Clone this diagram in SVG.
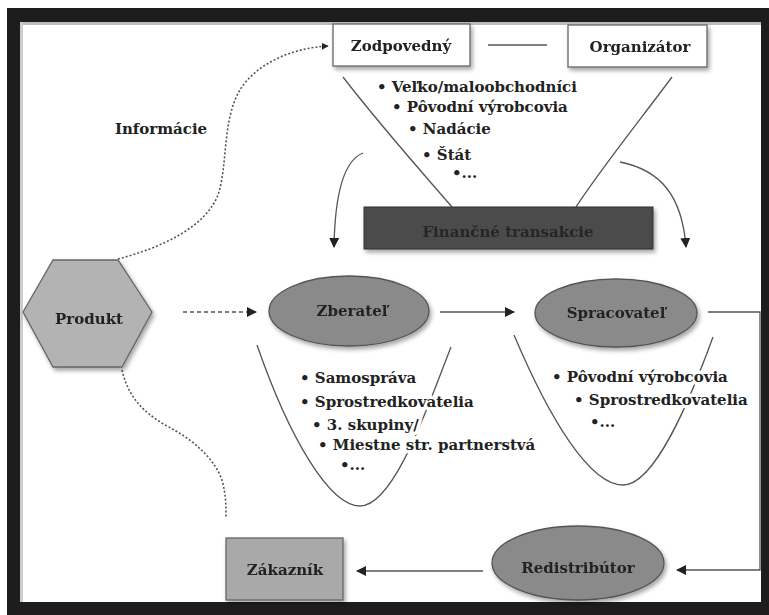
<svg xmlns="http://www.w3.org/2000/svg" width="769" height="615" viewBox="0 0 769 615">
<style>
text{font-family:"DejaVu Serif","Liberation Serif",serif;font-weight:bold;fill:#222;}
.lbl{font-size:15px;text-anchor:middle;}
.li{font-size:15px;}
.halo{paint-order:stroke;stroke:#fff;stroke-width:7px;stroke-linejoin:round;}
.ln{fill:none;stroke:#555;stroke-width:1.3;}
.dot{fill:none;stroke:#555;stroke-width:1.6;stroke-dasharray:2 2;}
.dash{fill:none;stroke:#555;stroke-width:1.6;stroke-dasharray:4 3;}
</style>
<defs>
<filter id="sh" x="-20%" y="-20%" width="140%" height="150%">
<feDropShadow dx="2" dy="3" stdDeviation="2" flood-color="#000" flood-opacity="0.35"/>
</filter>
<marker id="ah" viewBox="0 0 10 10" refX="9" refY="5" markerWidth="7" markerHeight="7" markerUnits="userSpaceOnUse" orient="auto">
<path d="M0,0 L10,5 L0,10 z" fill="#222"/>
</marker>
<marker id="ahb" viewBox="0 0 10 10" refX="9" refY="5" markerWidth="10" markerHeight="10" markerUnits="userSpaceOnUse" orient="auto">
<path d="M0,0 L10,5 L0,10 z" fill="#222"/>
</marker>
</defs>
<rect x="0" y="0" width="769" height="615" fill="#fff"/>
<rect x="7" y="8" width="762" height="607" fill="#1e1c1d"/>
<rect x="20" y="22" width="741" height="580" fill="#fff"/>
<rect x="20" y="22" width="741" height="3" fill="#bbb"/>
<rect x="20" y="22" width="3" height="580" fill="#ccc"/>

<g id="connectors">
<path class="ln" d="M488,45 L547,45"/>
<path class="dot" d="M118,259 C160,248 205,228 218,195 C228,165 222,120 240,90 C255,65 290,48 328,46" marker-end="url(#ah)"/>
<path class="dot" d="M122,370 C128,395 140,410 165,425 C195,440 215,460 222,480 C226,495 226,505 226,517"/>
<path class="dash" d="M183,312 L256,312" marker-end="url(#ahb)"/>
<path class="ln" d="M440,312 L514,312" marker-end="url(#ahb)"/>
<path class="ln" d="M363,153 C345,160 335,190 334,247" marker-end="url(#ahb)"/>
<path class="ln" d="M620,162 C660,170 682,195 686,247" marker-end="url(#ahb)"/>
<path class="ln" d="M708,312 L760,312 L760,570 L677,570" marker-end="url(#ahb)"/>
<path class="ln" d="M483,571 L357,571" marker-end="url(#ahb)"/>
<path class="ln" d="M343,77 C380,125 420,170 452,207"/>
<path class="ln" d="M672,77 C640,120 600,170 576,207"/>
<path class="ln" d="M257,345 C290,440 330,506 360,506 C395,506 430,400 451,347"/>
<path class="ln" d="M514,335 C550,420 590,485 623,485 C655,485 690,400 713,337"/>
</g>

<g id="zodpovedny" filter="url(#sh)">
<rect x="333" y="24" width="137" height="42" fill="#fff" stroke="#666" stroke-width="1.3"/>
<text class="lbl" x="401" y="51">Zodpovedný</text>
</g>
<g id="organizator" filter="url(#sh)">
<rect x="568" y="25" width="139" height="42" fill="#fff" stroke="#666" stroke-width="1.3"/>
<text class="lbl" x="640" y="52">Organizátor</text>
</g>
<g id="informacie">
<text class="lbl" x="161" y="134">Informácie</text>
</g>
<g id="zoznam-hore">
<text class="li" x="377" y="92">• Veľko/maloobchodníci</text>
<text class="li" x="392" y="112">• Pôvodní výrobcovia</text>
<text class="li" x="408" y="134">• Nadácie</text>
<text class="li" x="422" y="160">• Štát</text>
<text class="li" x="452" y="178">•...</text>
</g>
<g id="financne" filter="url(#sh)">
<rect x="364" y="207" width="289" height="42" fill="#4b4b4b" stroke="#333" stroke-width="1"/>
<text class="lbl" x="508" y="237" style="fill:#252525">Finančné transakcie</text>
</g>
<g id="produkt" filter="url(#sh)">
<polygon points="23,312 53,260 118,260 152,312 122,367 53,367" fill="#b3b3b3" stroke="#666" stroke-width="1.3"/>
<text class="lbl" x="89" y="324">Produkt</text>
</g>
<g id="zberatel" filter="url(#sh)">
<ellipse cx="349" cy="311" rx="80" ry="35" fill="#8a8a8a" stroke="#555" stroke-width="1.3"/>
<text class="lbl" x="352" y="316">Zberateľ</text>
</g>
<g id="spracovatel" filter="url(#sh)">
<ellipse cx="616" cy="313" rx="81" ry="34" fill="#8a8a8a" stroke="#555" stroke-width="1.3"/>
<text class="lbl" x="616" y="318">Spracovateľ</text>
</g>
<g id="zoznam-zberatel">
<text class="li halo" x="300" y="383">• Samospráva</text>
<text class="li halo" x="300" y="407">• Sprostredkovatelia</text>
<text class="li halo" x="312" y="430">• 3. skupiny/</text>
<text class="li halo" x="318" y="450">• Miestne str. partnerstvá</text>
<text class="li halo" x="340" y="470">•...</text>
</g>
<g id="zoznam-spracovatel">
<text class="li halo" x="552" y="382">• Pôvodní výrobcovia</text>
<text class="li halo" x="574" y="405">• Sprostredkovatelia</text>
<text class="li halo" x="590" y="427">•...</text>
</g>
<g id="redistributor" filter="url(#sh)">
<ellipse cx="578" cy="563" rx="86" ry="37" fill="#8a8a8a" stroke="#555" stroke-width="1.3"/>
<text class="lbl" x="578" y="573">Redistribútor</text>
</g>
<g id="zakaznik" filter="url(#sh)">
<rect x="226" y="538" width="117" height="62" fill="#a9a9a9" stroke="#666" stroke-width="1.3"/>
<text class="lbl" x="285" y="575">Zákazník</text>
</g>
</svg>
